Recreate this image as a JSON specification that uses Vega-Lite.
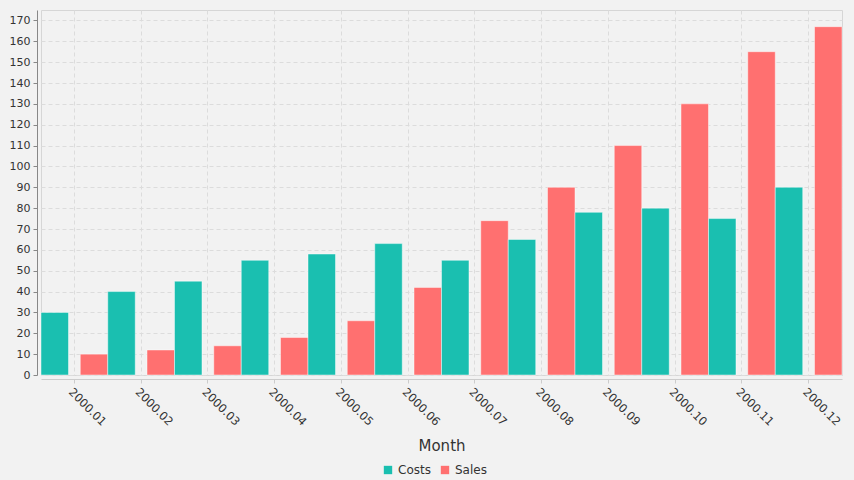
{
  "$schema": "https://vega.github.io/schema/vega-lite/v6.json",
  "width": 801,
  "height": 365,
  "autosize": {"type": "none"},
  "padding": {"left": 41, "top": 10, "right": 12, "bottom": 105},
  "background": "#f2f2f2",
  "config": {
    "view": {"stroke": "#d6d6d6", "strokeWidth": 1},
    "font": "DejaVu Sans"
  },
  "data": {
    "values": [
      {"month": "2000.01", "series": "Costs", "value": 30},
      {"month": "2000.01", "series": "Sales", "value": 10},
      {"month": "2000.02", "series": "Costs", "value": 40},
      {"month": "2000.02", "series": "Sales", "value": 12},
      {"month": "2000.03", "series": "Costs", "value": 45},
      {"month": "2000.03", "series": "Sales", "value": 14},
      {"month": "2000.04", "series": "Costs", "value": 55},
      {"month": "2000.04", "series": "Sales", "value": 18},
      {"month": "2000.05", "series": "Costs", "value": 58},
      {"month": "2000.05", "series": "Sales", "value": 26},
      {"month": "2000.06", "series": "Costs", "value": 63},
      {"month": "2000.06", "series": "Sales", "value": 42},
      {"month": "2000.07", "series": "Costs", "value": 55},
      {"month": "2000.07", "series": "Sales", "value": 74},
      {"month": "2000.08", "series": "Costs", "value": 65},
      {"month": "2000.08", "series": "Sales", "value": 90},
      {"month": "2000.09", "series": "Costs", "value": 78},
      {"month": "2000.09", "series": "Sales", "value": 110},
      {"month": "2000.10", "series": "Costs", "value": 80},
      {"month": "2000.10", "series": "Sales", "value": 130},
      {"month": "2000.11", "series": "Costs", "value": 75},
      {"month": "2000.11", "series": "Sales", "value": 155},
      {"month": "2000.12", "series": "Costs", "value": 90},
      {"month": "2000.12", "series": "Sales", "value": 167}
    ]
  },
  "mark": {"type": "bar", "stroke": "white", "strokeOpacity": 0.45, "strokeWidth": 1},
  "encoding": {
    "x": {
      "field": "month",
      "type": "nominal",
      "title": "Month",
      "scale": {"paddingInner": 0, "paddingOuter": 0},
      "axis": {
        "offset": 4,
        "bandPosition": 0.5,
        "domainColor": "#cccccc",
        "tickColor": "#cccccc",
        "tickSize": 4,
        "labelAngle": 45,
        "labelFontSize": 11.5,
        "labelColor": "#333333",
        "labelPadding": 3,
        "grid": true,
        "gridColor": "#dcdcdc",
        "gridDash": [4, 3],
        "titleFontSize": 15,
        "titleFontWeight": "normal",
        "titleColor": "#333333",
        "titlePadding": 11
      }
    },
    "xOffset": {
      "field": "series",
      "scale": {"domain": ["Costs", "Sales"], "paddingInner": 0.3, "paddingOuter": 0}
    },
    "y": {
      "field": "value",
      "type": "quantitative",
      "title": null,
      "scale": {"domain": [0, 175], "nice": false},
      "axis": {
        "offset": 4,
        "values": [0, 10, 20, 30, 40, 50, 60, 70, 80, 90, 100, 110, 120, 130, 140, 150, 160, 170],
        "domainColor": "#888888",
        "tickColor": "#888888",
        "tickSize": 4,
        "labelFontSize": 11,
        "labelColor": "#333333",
        "labelPadding": 3,
        "grid": true,
        "gridColor": "#dcdcdc",
        "gridDash": [4, 3]
      }
    },
    "color": {
      "field": "series",
      "type": "nominal",
      "scale": {"domain": ["Costs", "Sales"], "range": ["#1abfb0", "#ff7070"]},
      "legend": {
        "orient": "none",
        "direction": "horizontal",
        "legendX": 341,
        "legendY": 454,
        "title": null,
        "symbolType": "square",
        "symbolSize": 70,
        "symbolStrokeWidth": 0,
        "labelFontSize": 12,
        "labelColor": "#333333",
        "labelOffset": 4,
        "columnPadding": 8
      }
    }
  }
}
